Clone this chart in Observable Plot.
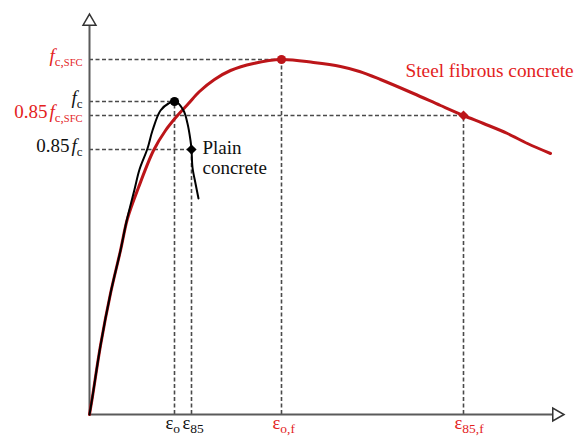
<!DOCTYPE html>
<html><head><meta charset="utf-8">
<script src="https://cdn.jsdelivr.net/npm/d3@7"></script>
<script src="https://cdn.jsdelivr.net/npm/@observablehq/plot@0.6"></script>
<style>
html,body{margin:0;padding:0;background:#fff;}
#chart svg{display:block;background:#fff;}
</style></head><body><div id="chart"></div>
<script>
// Key points (strain, stress) — arbitrary units
const strainLabels = ["ε_o", "ε_85", "ε_o,f", "ε_85,f"];
const strainValues = [85, 102, 192, 374];
const stressLabels = ["f_c", "0.85f_c", "f_c,SFC", "0.85f_c,SFC"];
const stressValues = [313, 265, 355, 299];
const keySeries = ["plain", "plain", "sfc", "sfc"];
const keySymbols = ["circle", "diamond2", "circle", "diamond2"];

// Steel fibrous concrete curve
const sfcStrain = [0, 3, 11, 21, 31, 38, 49, 64, 76, 88, 99, 110, 125, 141, 164, 192, 224, 251, 270, 291, 324, 351, 374, 394, 418, 438, 461];
const sfcStress = [0, 18, 69, 121, 164, 196, 227, 264, 284, 299, 311, 323, 335, 344, 351, 355, 352, 348, 343, 335, 321, 309, 299, 291, 281, 271, 261];

// Plain concrete curve
const plainStrain = [0, 3, 11, 21, 31, 37, 45, 50, 58, 63, 71, 79, 86, 94, 98, 101, 102, 103, 106, 109];
const plainStress = [0, 18, 69, 121, 164, 193, 225, 245, 266, 284, 304, 311, 313, 304, 291, 274, 265, 247, 231, 216];

// Axis extents / arrowheads
const axisMaxStrain = 467;
const axisMaxStress = 393;
const arrowX = [0, axisMaxStrain];
const arrowY = [axisMaxStress, 0];
const arrowRotate = [0, 90];

// Curve annotations
const annoText = ["Steel fibrous concrete"];
const annoX = [316];
const annoY = [344];

const RED_LINE = "#bc1519";
const RED_TEXT = "#e3221d";
const colorOf = s => s === "sfc" ? RED_TEXT : "#111";
const SERIF = "'Liberation Serif', 'Times New Roman', serif";

const idx = d3.range(strainValues.length);
const sfc = sfcStrain.map((x, i) => ({x, y: sfcStress[i]}));
const plain = plainStrain.map((x, i) => ({x, y: plainStress[i]}));

const plot = Plot.plot({
  width: 575,
  height: 439,
  marginLeft: 89,
  marginRight: 10,
  marginTop: 13,
  marginBottom: 25,
  x: {domain: [0, 476], axis: null},
  y: {domain: [0, 401], axis: null},
  r: {type: "identity"},
  marks: [
    // dashed guide lines
    Plot.ruleY(idx, {y: i => stressValues[i], x1: 0, x2: i => strainValues[i], stroke: "#4a4a4a", strokeWidth: 1.6, strokeDasharray: "4,2.5"}),
    Plot.ruleX(idx, {x: i => strainValues[i], y1: 0, y2: i => stressValues[i], stroke: "#4a4a4a", strokeWidth: 1.6, strokeDasharray: "4,2.5"}),
    // axes
    Plot.ruleX([0], {y1: 0, y2: axisMaxStress, stroke: "#5a5a5a", strokeWidth: 2}),
    Plot.ruleY([0], {x1: 0, x2: axisMaxStrain, stroke: "#5a5a5a", strokeWidth: 2}),
    Plot.dot(d3.range(2), {x: i => arrowX[i], y: i => arrowY[i], rotate: i => arrowRotate[i], symbol: "triangle", r: 4.8, fill: "white", stroke: "#333", strokeWidth: 1.5}),
    // curves
    Plot.line(sfc, {x: "x", y: "y", stroke: RED_LINE, strokeWidth: 3, curve: "catmull-rom"}),
    Plot.line(plain, {x: "x", y: "y", stroke: "#000", strokeWidth: 2, curve: "catmull-rom"}),
    // key markers
    Plot.dot(idx, {x: i => strainValues[i], y: i => stressValues[i], symbol: i => keySymbols[i], r: i => keySymbols[i] === "circle" ? 4.6 : 4.6, fill: i => keySeries[i] === "sfc" ? RED_LINE : "#000", stroke: "none"}),
    // labels
    Plot.text(idx, {x: 0, y: i => stressValues[i], text: i => stressLabels[i], fill: i => colorOf(keySeries[i]), textAnchor: "end", dx: -7, dy: -4, fontSize: 19, fontFamily: SERIF}),
    Plot.text(idx, {x: i => strainValues[i], y: 0, text: i => strainLabels[i], fill: i => colorOf(keySeries[i]), textAnchor: "start", dx: -9, dy: 9, fontSize: 18.5, fontFamily: SERIF}),
    Plot.text([1], {x: i => strainValues[i], y: i => stressValues[i], text: ["Plain\nconcrete"], textAnchor: "start", lineAnchor: "top", lineHeight: 1.06, dx: 11, dy: -9.5, fontSize: 19, fontFamily: SERIF, fill: "#111"}),
    Plot.text(annoText, {x: (d, i) => annoX[i], y: (d, i) => annoY[i], text: d => d, textAnchor: "start", fontSize: 19.3, fontFamily: SERIF, fill: RED_TEXT})
  ]
});

// Rich text: italic f, subscripts
const NS = "http://www.w3.org/2000/svg";
function richify(t, subSize, capSize) {
  const label = t.textContent;
  const [main, sub] = label.split("_");
  t.textContent = "";
  for (const part of main.match(/f|[^f]+/g)) {
    const ts = document.createElementNS(NS, "tspan");
    ts.textContent = part;
    if (part === "f") {
      ts.setAttribute("font-style", "italic");
      if (main.length > 1) ts.setAttribute("dx", "2");
    }
    t.appendChild(ts);
  }
  if (sub) {
    sub.match(/[A-Z]+|[^A-Z]+/g).forEach((part, k) => {
      const ts = document.createElementNS(NS, "tspan");
      ts.textContent = part;
      ts.setAttribute("font-size", /[A-Z]/.test(part) ? capSize : subSize);
      if (k === 0) ts.setAttribute("dy", "4");
      t.appendChild(ts);
    });
  }
}
plot.querySelectorAll("text").forEach(t => {
  const s = t.textContent;
  if (stressLabels.includes(s)) richify(t, 13, 10.5);
  else if (strainLabels.includes(s)) richify(t, 13.5, 10.5);
});

document.getElementById("chart").appendChild(plot);
</script>
</body></html>
